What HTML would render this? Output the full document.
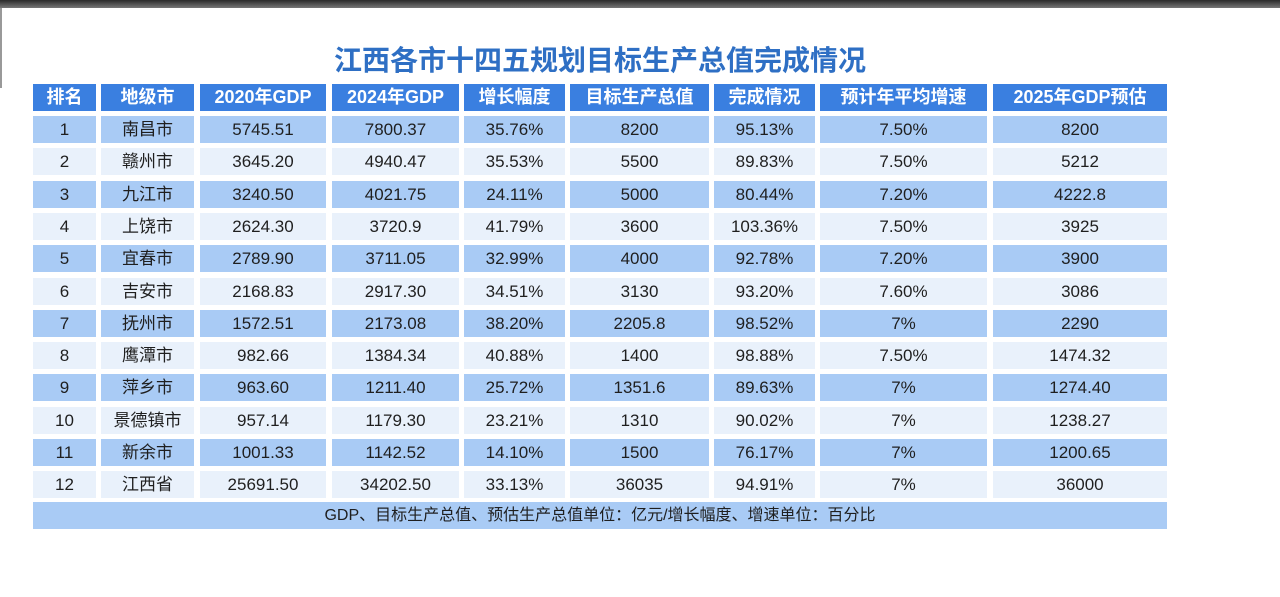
<!DOCTYPE html>
<html><head><meta charset="utf-8">
<style>
body{margin:0;width:1280px;height:597px;background:#fff;position:relative;overflow:hidden;font-family:"Liberation Sans","Noto Sans CJK SC",sans-serif;}
.c{position:absolute;text-align:center;line-height:27px;font-size:17px;color:#1f1f1f;white-space:nowrap;}
.c span{display:inline-block;vertical-align:top;line-height:27px;}
.h{background:#3a7fe0;color:#fff;font-weight:bold;font-size:18px;}
.o{background:#a9cbf5;}
.e{background:#e9f1fb;}
</style></head><body>
<div style="position:absolute;left:0;top:0;width:1280px;height:8px;background:linear-gradient(#2a2a2a,#777);"></div>
<div style="position:absolute;left:0;top:8px;width:2px;height:80px;background:#999;"></div>
<div style="position:absolute;left:0;width:1200px;top:44px;line-height:34px;text-align:center;font-size:28px;font-weight:bold;color:#2e6fc4;">江西各市十四五规划目标生产总值完成情况</div>
<div id="tbl"></div>
<div class="c o" style="left:33px;top:502px;width:1134px;height:27px;font-size:16px;"><span>GDP、目标生产总值、预估生产总值单位：亿元/增长幅度、增速单位：百分比</span></div>
<script>
const headers=["排名","地级市","2020年GDP","2024年GDP","增长幅度","目标生产总值","完成情况","预计年平均增速","2025年GDP预估"];
const cities=["南昌市","赣州市","九江市","上饶市","宜春市","吉安市","抚州市","鹰潭市","萍乡市","景德镇市","新余市","江西省"];
const gdp2020=["5745.51","3645.20","3240.50","2624.30","2789.90","2168.83","1572.51","982.66","963.60","957.14","1001.33","25691.50"];
const gdp2024=["7800.37","4940.47","4021.75","3720.9","3711.05","2917.30","2173.08","1384.34","1211.40","1179.30","1142.52","34202.50"];
const growth=["35.76%","35.53%","24.11%","41.79%","32.99%","34.51%","38.20%","40.88%","25.72%","23.21%","14.10%","33.13%"];
const target=["8200","5500","5000","3600","4000","3130","2205.8","1400","1351.6","1310","1500","36035"];
const completion=["95.13%","89.83%","80.44%","103.36%","92.78%","93.20%","98.52%","98.88%","89.63%","90.02%","76.17%","94.91%"];
const avgRate=["7.50%","7.50%","7.20%","7.50%","7.20%","7.60%","7%","7.50%","7%","7%","7%","7%"];
const est2025=["8200","5212","4222.8","3925","3900","3086","2290","1474.32","1274.40","1238.27","1200.65","36000"];
const L=[33,101,200,332,464,570,714,820,993],R=[96,194,326,459,565,709,815,987,1167];
const keys=["rank","city","gdp-2020","gdp-2024","growth","target","completion","avg-rate","est-2025"];
const t=document.getElementById('tbl');
function cell(x,w,y,h,txt,cls){const d=document.createElement('div');d.className='c '+cls;d.style.left=x+'px';d.style.width=w+'px';d.style.top=y+'px';d.style.height=h+'px';const s=document.createElement('span');s.textContent=txt;d.appendChild(s);t.appendChild(d);return d;}
headers.forEach((hd,j)=>{const d=cell(L[j],R[j]-L[j],84,27,hd,'h');

});
cities.forEach((c,i)=>{const vals=[String(i+1),c,gdp2020[i],gdp2024[i],growth[i],target[i],completion[i],avgRate[i],est2025[i]];
const y=Math.round(116+32.3*i);
vals.forEach((v,j)=>{const d=cell(L[j],R[j]-L[j],y,27,v,i%2?'e':'o');

});});
</script>
</body></html>
